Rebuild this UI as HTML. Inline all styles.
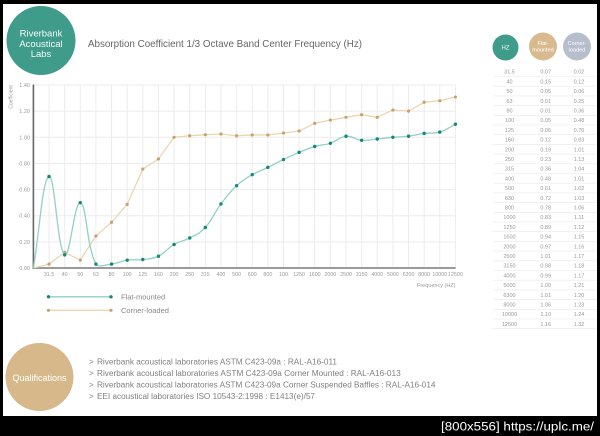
<!DOCTYPE html>
<html>
<head>
<meta charset="utf-8">
<style>
  html,body{margin:0;padding:0;background:#000;}
  body{width:600px;height:436px;overflow:hidden;}
  svg{display:block;}
  text{font-family:"Liberation Sans", sans-serif;}
</style>
</head>
<body>
<svg width="600" height="436" viewBox="0 0 600 436" xmlns="http://www.w3.org/2000/svg">
  <rect x="0" y="0" width="600" height="436" fill="#000"/>
  <rect x="3" y="4" width="594" height="412" fill="#fff"/>

  <!-- Logo -->
  <circle cx="41" cy="40.5" r="34.5" fill="#3f9c8b"/>
  <text x="41" y="36.5" font-size="9.5" fill="#f4fbf9" text-anchor="middle">Riverbank</text>
  <text x="41" y="47" font-size="9.5" fill="#f4fbf9" text-anchor="middle">Acoustical</text>
  <text x="41" y="57" font-size="9.5" fill="#f4fbf9" text-anchor="middle">Labs</text>

  <!-- Title -->
  <text x="88" y="47" font-size="10.5" fill="#666" textLength="274" lengthAdjust="spacingAndGlyphs">Absorption Coefficient 1/3 Octave Band Center Frequency (Hz)</text>

  <!-- Grid -->
  <g stroke="#ececec" stroke-width="1">
    <line x1="33" y1="85" x2="455.4" y2="85"/>
    <line x1="33" y1="111.1" x2="455.4" y2="111.1"/>
    <line x1="33" y1="137.3" x2="455.4" y2="137.3"/>
    <line x1="33" y1="163.4" x2="455.4" y2="163.4"/>
    <line x1="33" y1="189.6" x2="455.4" y2="189.6"/>
    <line x1="33" y1="215.7" x2="455.4" y2="215.7"/>
    <line x1="33" y1="241.9" x2="455.4" y2="241.9"/>
    <line x1="49.03" y1="85" x2="49.03" y2="268"/>
    <line x1="64.66" y1="85" x2="64.66" y2="268"/>
    <line x1="80.29" y1="85" x2="80.29" y2="268"/>
    <line x1="95.92" y1="85" x2="95.92" y2="268"/>
    <line x1="111.55" y1="85" x2="111.55" y2="268"/>
    <line x1="127.18" y1="85" x2="127.18" y2="268"/>
    <line x1="142.81" y1="85" x2="142.81" y2="268"/>
    <line x1="158.44" y1="85" x2="158.44" y2="268"/>
    <line x1="174.07" y1="85" x2="174.07" y2="268"/>
    <line x1="189.7" y1="85" x2="189.7" y2="268"/>
    <line x1="205.33" y1="85" x2="205.33" y2="268"/>
    <line x1="220.96" y1="85" x2="220.96" y2="268"/>
    <line x1="236.59" y1="85" x2="236.59" y2="268"/>
    <line x1="252.22" y1="85" x2="252.22" y2="268"/>
    <line x1="267.85" y1="85" x2="267.85" y2="268"/>
    <line x1="283.48" y1="85" x2="283.48" y2="268"/>
    <line x1="299.11" y1="85" x2="299.11" y2="268"/>
    <line x1="314.74" y1="85" x2="314.74" y2="268"/>
    <line x1="330.37" y1="85" x2="330.37" y2="268"/>
    <line x1="346" y1="85" x2="346" y2="268"/>
    <line x1="361.63" y1="85" x2="361.63" y2="268"/>
    <line x1="377.26" y1="85" x2="377.26" y2="268"/>
    <line x1="392.89" y1="85" x2="392.89" y2="268"/>
    <line x1="408.52" y1="85" x2="408.52" y2="268"/>
    <line x1="424.15" y1="85" x2="424.15" y2="268"/>
    <line x1="439.78" y1="85" x2="439.78" y2="268"/>
    <line x1="455.41" y1="85" x2="455.41" y2="268"/>
  </g>

  <!-- Axes -->
  <line x1="33.4" y1="268" x2="455.6" y2="268" stroke="#9a9a9a" stroke-width="2"/>
  <line x1="33.4" y1="84.5" x2="33.4" y2="269" stroke="#666" stroke-width="1.6"/>

  <!-- Y labels -->
  <g font-size="5.5" fill="#999" text-anchor="end">
    <text x="30" y="87">1.40</text>
    <text x="30" y="113.1">1.20</text>
    <text x="30" y="139.3">1.00</text>
    <text x="30" y="165.4">0.80</text>
    <text x="30" y="191.6">0.60</text>
    <text x="30" y="217.7">0.40</text>
    <text x="30" y="243.9">0.20</text>
    <text x="30" y="270">0.00</text>
  </g>
  <text transform="translate(12.5,97) rotate(-90)" font-size="5" fill="#999" text-anchor="middle">Coefficient</text>

  <!-- X labels -->
  <g font-size="5.3" fill="#999" text-anchor="middle">
    <text x="49.03" y="276">31.5</text>
    <text x="64.66" y="276">40</text>
    <text x="80.29" y="276">50</text>
    <text x="95.92" y="276">63</text>
    <text x="111.55" y="276">80</text>
    <text x="127.18" y="276">100</text>
    <text x="142.81" y="276">125</text>
    <text x="158.44" y="276">160</text>
    <text x="174.07" y="276">200</text>
    <text x="189.7" y="276">250</text>
    <text x="205.33" y="276">315</text>
    <text x="220.96" y="276">400</text>
    <text x="236.59" y="276">500</text>
    <text x="252.22" y="276">600</text>
    <text x="267.85" y="276">800</text>
    <text x="283.48" y="276">100</text>
    <text x="299.11" y="276">1250</text>
    <text x="314.74" y="276">1600</text>
    <text x="330.37" y="276">2000</text>
    <text x="346" y="276">2500</text>
    <text x="361.63" y="276">3150</text>
    <text x="377.26" y="276">4000</text>
    <text x="392.89" y="276">5000</text>
    <text x="408.52" y="276">6300</text>
    <text x="424.15" y="276">8000</text>
    <text x="439.78" y="276">10000</text>
    <text x="455.41" y="276">12500</text>
  </g>
  <text x="455.5" y="287" font-size="5.5" fill="#999" text-anchor="end">Frequency (HZ)</text>

  <!-- Corner-loaded (tan) -->
  <polyline fill="none" stroke="#ecd5b3" stroke-width="1.3" stroke-linejoin="round"
    points="33.4,268 49.03,264.08 64.66,252.32 80.29,260.16 95.92,235.98 111.55,222.26 127.18,204.35 142.81,169.06 158.44,158.99 174.07,137.3 189.7,135.73 205.33,134.69 220.96,134.03 236.59,135.73 252.22,134.95 267.85,134.95 283.48,132.99 299.11,131.03 314.74,123.32 330.37,120.05 346,117.3 361.63,114.69 377.26,117.3 392.89,109.98 408.52,111.16 424.15,102.27 439.78,100.7 455.41,97.04"/>
  <g fill="#c9a26b">
    <circle cx="49.03" cy="264.08" r="1.6"/>
    <circle cx="64.66" cy="252.32" r="1.6"/>
    <circle cx="80.29" cy="260.16" r="1.6"/>
    <circle cx="95.92" cy="235.98" r="1.6"/>
    <circle cx="111.55" cy="222.26" r="1.6"/>
    <circle cx="127.18" cy="204.35" r="1.6"/>
    <circle cx="142.81" cy="169.06" r="1.6"/>
    <circle cx="158.44" cy="158.99" r="1.6"/>
    <circle cx="174.07" cy="137.3" r="1.6"/>
    <circle cx="189.7" cy="135.73" r="1.6"/>
    <circle cx="205.33" cy="134.69" r="1.6"/>
    <circle cx="220.96" cy="134.03" r="1.6"/>
    <circle cx="236.59" cy="135.73" r="1.6"/>
    <circle cx="252.22" cy="134.95" r="1.6"/>
    <circle cx="267.85" cy="134.95" r="1.6"/>
    <circle cx="283.48" cy="132.99" r="1.6"/>
    <circle cx="299.11" cy="131.03" r="1.6"/>
    <circle cx="314.74" cy="123.32" r="1.6"/>
    <circle cx="330.37" cy="120.05" r="1.6"/>
    <circle cx="346" cy="117.3" r="1.6"/>
    <circle cx="361.63" cy="114.69" r="1.6"/>
    <circle cx="377.26" cy="117.3" r="1.6"/>
    <circle cx="392.89" cy="109.98" r="1.6"/>
    <circle cx="408.52" cy="111.16" r="1.6"/>
    <circle cx="424.15" cy="102.27" r="1.6"/>
    <circle cx="439.78" cy="100.7" r="1.6"/>
    <circle cx="455.41" cy="97.04" r="1.6"/>
  </g>

  <!-- Flat-mounted (teal) -->
  <path fill="none" stroke="#8fd1c6" stroke-width="1.3"
    d="M33.4,268 C39.65,231.4 42.31,179.32 49.03,176.5 C54.82,174.08 57.23,248.68 64.66,254.9 C69.73,259.14 74.51,200.95 80.29,202.65 C87.01,204.62 85.89,244.37 95.92,264.08 C98.39,268 105.39,264.85 111.55,264.08 C117.9,263.28 120.83,261.09 127.18,260.16 C133.34,259.26 136.56,260.28 142.81,259.5 C149.06,258.72 152.19,259.25 158.44,256.24 C164.69,253.23 167.82,248.13 174.07,244.47 C180.32,240.81 183.45,241.34 189.7,237.94 C195.95,234.54 199.08,234.28 205.33,227.48 C211.58,220.68 214.71,212.32 220.96,203.96 C227.21,195.6 230.34,191.52 236.59,185.66 C242.84,179.8 245.97,178.34 252.22,174.68 C258.47,171.02 261.6,170.39 267.85,167.36 C274.1,164.33 277.23,162.53 283.48,159.52 C289.73,156.51 292.86,154.94 299.11,152.33 C305.36,149.72 308.49,148.25 314.74,146.45 C320.99,144.65 324.12,145.35 330.37,143.31 C336.62,141.27 339.75,136.85 346,136.25 C352.25,135.65 355.38,139.76 361.63,140.31 C367.88,140.86 371.01,139.6 377.26,139 C383.51,138.4 386.64,137.85 392.89,137.3 C399.14,136.75 402.27,137.03 408.52,136.25 C414.77,135.47 417.9,134.22 424.15,133.38 C430.4,132.54 433.53,133.9 439.78,132.07 C446.03,130.24 449.16,127.37 455.41,124.23"/>
  <g fill="#13887a">
    <circle cx="49.03" cy="176.5" r="1.7"/>
    <circle cx="64.66" cy="254.9" r="1.7"/>
    <circle cx="80.29" cy="202.65" r="1.7"/>
    <circle cx="95.92" cy="264.08" r="1.7"/>
    <circle cx="111.55" cy="264.08" r="1.7"/>
    <circle cx="127.18" cy="260.16" r="1.7"/>
    <circle cx="142.81" cy="259.5" r="1.7"/>
    <circle cx="158.44" cy="256.24" r="1.7"/>
    <circle cx="174.07" cy="244.47" r="1.7"/>
    <circle cx="189.7" cy="237.94" r="1.7"/>
    <circle cx="205.33" cy="227.48" r="1.7"/>
    <circle cx="220.96" cy="203.96" r="1.7"/>
    <circle cx="236.59" cy="185.66" r="1.7"/>
    <circle cx="252.22" cy="174.68" r="1.7"/>
    <circle cx="267.85" cy="167.36" r="1.7"/>
    <circle cx="283.48" cy="159.52" r="1.7"/>
    <circle cx="299.11" cy="152.33" r="1.7"/>
    <circle cx="314.74" cy="146.45" r="1.7"/>
    <circle cx="330.37" cy="143.31" r="1.7"/>
    <circle cx="346" cy="136.25" r="1.7"/>
    <circle cx="361.63" cy="140.31" r="1.7"/>
    <circle cx="377.26" cy="139" r="1.7"/>
    <circle cx="392.89" cy="137.3" r="1.7"/>
    <circle cx="408.52" cy="136.25" r="1.7"/>
    <circle cx="424.15" cy="133.38" r="1.7"/>
    <circle cx="439.78" cy="132.07" r="1.7"/>
    <circle cx="455.41" cy="124.23" r="1.7"/>
  </g>

  <!-- Legend -->
  <line x1="48.5" y1="296.8" x2="111" y2="296.8" stroke="#8fd1c6" stroke-width="1.3"/>
  <circle cx="48.5" cy="296.8" r="1.7" fill="#13887a"/>
  <circle cx="111" cy="296.8" r="1.7" fill="#13887a"/>
  <text x="121" y="299.6" font-size="7.5" fill="#888">Flat-mounted</text>
  <line x1="48.5" y1="310.3" x2="111" y2="310.3" stroke="#ecd5b3" stroke-width="1.3"/>
  <circle cx="48.5" cy="310.3" r="1.6" fill="#c9a26b"/>
  <circle cx="111" cy="310.3" r="1.6" fill="#c9a26b"/>
  <text x="121" y="313.1" font-size="7.5" fill="#888">Corner-loaded</text>

  <!-- Table header circles -->
  <circle cx="505.5" cy="47.5" r="13" fill="#3f9c8b"/>
  <text x="505.5" y="49.7" font-size="6" fill="#f4fbf9" text-anchor="middle">HZ</text>
  <circle cx="543" cy="46.5" r="14" fill="#d8ba8e"/>
  <text x="543" y="45" font-size="5.5" fill="#fff" text-anchor="middle">Flat-</text>
  <text x="543" y="51.5" font-size="5.5" fill="#fff" text-anchor="middle">mounted</text>
  <circle cx="577" cy="46.5" r="14" fill="#b6becc"/>
  <text x="577" y="45" font-size="5.5" fill="#fff" text-anchor="middle">Corner-</text>
  <text x="577" y="51.5" font-size="5.5" fill="#fff" text-anchor="middle">loaded</text>

  <!-- Table rows -->
  <g stroke="#e8e8e8" stroke-width="0.6">
    <line x1="493" y1="76.5" x2="597" y2="76.5"/>
    <line x1="493" y1="86.2" x2="597" y2="86.2"/>
    <line x1="493" y1="95.9" x2="597" y2="95.9"/>
    <line x1="493" y1="105.6" x2="597" y2="105.6"/>
    <line x1="493" y1="115.3" x2="597" y2="115.3"/>
    <line x1="493" y1="125" x2="597" y2="125"/>
    <line x1="493" y1="134.7" x2="597" y2="134.7"/>
    <line x1="493" y1="144.4" x2="597" y2="144.4"/>
    <line x1="493" y1="154.1" x2="597" y2="154.1"/>
    <line x1="493" y1="163.8" x2="597" y2="163.8"/>
    <line x1="493" y1="173.5" x2="597" y2="173.5"/>
    <line x1="493" y1="183.2" x2="597" y2="183.2"/>
    <line x1="493" y1="192.9" x2="597" y2="192.9"/>
    <line x1="493" y1="202.6" x2="597" y2="202.6"/>
    <line x1="493" y1="212.3" x2="597" y2="212.3"/>
    <line x1="493" y1="222" x2="597" y2="222"/>
    <line x1="493" y1="231.7" x2="597" y2="231.7"/>
    <line x1="493" y1="241.4" x2="597" y2="241.4"/>
    <line x1="493" y1="251.1" x2="597" y2="251.1"/>
    <line x1="493" y1="260.8" x2="597" y2="260.8"/>
    <line x1="493" y1="270.5" x2="597" y2="270.5"/>
    <line x1="493" y1="280.2" x2="597" y2="280.2"/>
    <line x1="493" y1="289.9" x2="597" y2="289.9"/>
    <line x1="493" y1="299.6" x2="597" y2="299.6"/>
    <line x1="493" y1="309.3" x2="597" y2="309.3"/>
    <line x1="493" y1="319" x2="597" y2="319"/>
    <line x1="493" y1="328.7" x2="597" y2="328.7"/>
  </g>
  <g font-size="5.5" fill="#999" text-anchor="middle">
    <text x="509.5" y="73.7">31.5</text><text x="545.7" y="73.7">0.07</text><text x="579" y="73.7">0.02</text>
    <text x="509.5" y="83.4">40</text><text x="545.7" y="83.4">0.15</text><text x="579" y="83.4">0.12</text>
    <text x="509.5" y="93.1">50</text><text x="545.7" y="93.1">0.05</text><text x="579" y="93.1">0.06</text>
    <text x="509.5" y="102.8">63</text><text x="545.7" y="102.8">0.01</text><text x="579" y="102.8">0.25</text>
    <text x="509.5" y="112.5">80</text><text x="545.7" y="112.5">0.01</text><text x="579" y="112.5">0.36</text>
    <text x="509.5" y="122.2">100</text><text x="545.7" y="122.2">0.05</text><text x="579" y="122.2">0.48</text>
    <text x="509.5" y="131.9">125</text><text x="545.7" y="131.9">0.06</text><text x="579" y="131.9">0.76</text>
    <text x="509.5" y="141.6">160</text><text x="545.7" y="141.6">0.12</text><text x="579" y="141.6">0.83</text>
    <text x="509.5" y="151.3">200</text><text x="545.7" y="151.3">0.19</text><text x="579" y="151.3">1.01</text>
    <text x="509.5" y="161">250</text><text x="545.7" y="161">0.23</text><text x="579" y="161">1.13</text>
    <text x="509.5" y="170.7">315</text><text x="545.7" y="170.7">0.36</text><text x="579" y="170.7">1.04</text>
    <text x="509.5" y="180.4">400</text><text x="545.7" y="180.4">0.48</text><text x="579" y="180.4">1.01</text>
    <text x="509.5" y="190.1">500</text><text x="545.7" y="190.1">0.61</text><text x="579" y="190.1">1.02</text>
    <text x="509.5" y="199.8">630</text><text x="545.7" y="199.8">0.72</text><text x="579" y="199.8">1.03</text>
    <text x="509.5" y="209.5">800</text><text x="545.7" y="209.5">0.78</text><text x="579" y="209.5">1.06</text>
    <text x="509.5" y="219.2">1000</text><text x="545.7" y="219.2">0.83</text><text x="579" y="219.2">1.11</text>
    <text x="509.5" y="228.9">1250</text><text x="545.7" y="228.9">0.89</text><text x="579" y="228.9">1.12</text>
    <text x="509.5" y="238.6">1600</text><text x="545.7" y="238.6">0.94</text><text x="579" y="238.6">1.15</text>
    <text x="509.5" y="248.3">2000</text><text x="545.7" y="248.3">0.97</text><text x="579" y="248.3">1.16</text>
    <text x="509.5" y="258">2500</text><text x="545.7" y="258">1.01</text><text x="579" y="258">1.17</text>
    <text x="509.5" y="267.7">3150</text><text x="545.7" y="267.7">0.98</text><text x="579" y="267.7">1.18</text>
    <text x="509.5" y="277.4">4000</text><text x="545.7" y="277.4">0.99</text><text x="579" y="277.4">1.17</text>
    <text x="509.5" y="287.1">5000</text><text x="545.7" y="287.1">1.00</text><text x="579" y="287.1">1.21</text>
    <text x="509.5" y="296.8">6300</text><text x="545.7" y="296.8">1.01</text><text x="579" y="296.8">1.20</text>
    <text x="509.5" y="306.5">8000</text><text x="545.7" y="306.5">1.06</text><text x="579" y="306.5">1.23</text>
    <text x="509.5" y="316.2">10000</text><text x="545.7" y="316.2">1.10</text><text x="579" y="316.2">1.24</text>
    <text x="509.5" y="325.9">12500</text><text x="545.7" y="325.9">1.16</text><text x="579" y="325.9">1.32</text>
  </g>

  <!-- Qualifications -->
  <circle cx="39.5" cy="377" r="34" fill="#d6b88b"/>
  <text x="39.5" y="380.8" font-size="9" fill="#fff" text-anchor="middle">Qualifications</text>
  <g font-size="8" fill="#808080">
    <text x="89" y="364.6">&gt;</text>
    <text x="97" y="364.6" textLength="240" lengthAdjust="spacingAndGlyphs">Riverbank acoustical laboratories ASTM C423-09a : RAL-A16-011</text>
    <text x="89" y="375.8">&gt;</text>
    <text x="97" y="375.8" textLength="303.7" lengthAdjust="spacingAndGlyphs">Riverbank acoustical laboratories ASTM C423-09a Corner Mounted : RAL-A16-013</text>
    <text x="89" y="387.3">&gt;</text>
    <text x="97" y="387.3" textLength="338.5" lengthAdjust="spacingAndGlyphs">Riverbank acoustical laboratories ASTM C423-09a Corner Suspended Baffles : RAL-A16-014</text>
    <text x="89" y="398.8">&gt;</text>
    <text x="97" y="398.8" textLength="218" lengthAdjust="spacingAndGlyphs">EEI acoustical laboratories ISO 10543-2:1998 : E1413(e)/57</text>
  </g>

  <!-- Footer watermark -->
  <text x="441" y="430.5" font-size="11.5" fill="#fff" textLength="153" lengthAdjust="spacingAndGlyphs">[800x556] https://uplc.me/</text>
</svg>
</body>
</html>
